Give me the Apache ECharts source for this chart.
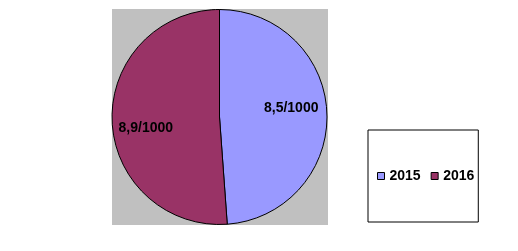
<!DOCTYPE html>
<html>
<head>
<meta charset="utf-8">
<script src="https://cdn.jsdelivr.net/npm/echarts@6/dist/echarts.min.js"></script>
<style>
html,body{margin:0;padding:0;background:#fff;}
#c{width:518px;height:251px;}
</style>
</head>
<body>
<div id="c"></div>
<script>
var categories = ['2015', '2016'];
var values = [8.5, 8.9];
var colors = ['#9999ff', '#993366'];
var labelOffsets = [[15, -7], [-17, 9]];

var chart = echarts.init(document.getElementById('c'), null, {renderer: 'canvas'});
var data = categories.map(function (name, i) {
  return {
    name: name,
    value: values[i],
    itemStyle: {color: colors[i]},
    label: {offset: labelOffsets[i]}
  };
});
chart.setOption({
  animation: false,
  graphic: [{
    type: 'rect',
    z: -10,
    silent: true,
    shape: {x: 112, y: 9, width: 216, height: 216},
    style: {fill: '#c0c0c0'}
  }],
  legend: {
    data: categories,
    orient: 'horizontal',
    left: 368,
    top: 130,
    padding: [39, 4, 39, 9],
    borderColor: '#000',
    borderWidth: 1,
    itemWidth: 7,
    itemHeight: 7,
    itemGap: 10,
    icon: 'rect',
    selectedMode: false,
    itemStyle: {borderColor: '#000', borderWidth: 1},
    textStyle: {fontFamily: 'Liberation Sans, Arial, sans-serif', fontSize: 14, fontWeight: 'bold', color: '#000', padding: [0, 0, 0, 0]}
  },
  series: [{
    type: 'pie',
    center: [219.5, 117],
    radius: [0, 107.5],
    startAngle: 90,
    clockwise: true,
    avoidLabelOverlap: false,
    emphasis: {disabled: true},
    itemStyle: {borderColor: '#000', borderWidth: 1},
    label: {
      show: true,
      position: 'inside',
      fontFamily: 'Liberation Sans, Arial, sans-serif',
      fontSize: 14,
      fontWeight: 'bold',
      color: '#000',
      formatter: function (p) { return String(p.value).replace('.', ',') + '/1000'; }
    },
    labelLine: {show: false},
    data: data
  }]
});
</script>
</body>
</html>
